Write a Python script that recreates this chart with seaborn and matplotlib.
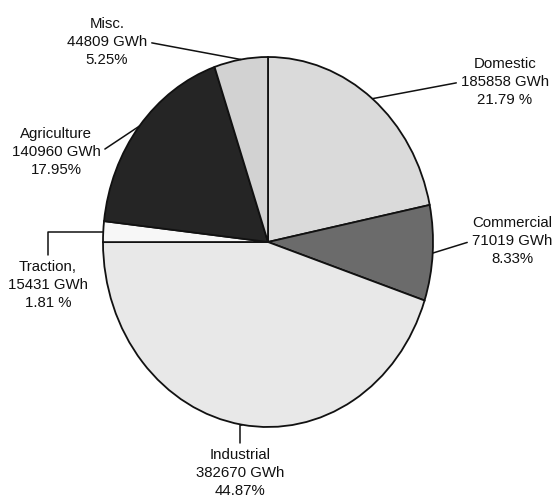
import numpy as np
import matplotlib
matplotlib.use("Agg")
import matplotlib.pyplot as plt
import seaborn as sns

# Electricity consumption by sector
sectors = ["Domestic", "Commercial", "Industrial", "Traction,", "Agriculture", "Misc."]
energy_gwh = [185858, 71019, 382670, 15431, 140960, 44809]
share_pct = [21.79, 8.33, 44.87, 1.81, 17.95, 5.25]
pct_text = ["21.79 %", "8.33%", "44.87%", "1.81 %", "17.95%", "5.25%"]

sns.set_theme(style="white")
plt.rcParams["font.family"] = ["Liberation Sans", "DejaVu Sans"]

fills = ["#dadada", "#6b6b6b", "#e8e8e8", "#f7f7f7", "#252525", "#d2d2d2"]

W, H = 557, 504
fig = plt.figure(figsize=(W / 100, H / 100), dpi=100)
fig.patch.set_facecolor("white")

# axes box spans the (slightly tall) ellipse of the pie
left, right, top, bottom = 103, 433, 57, 427
ax = fig.add_axes([left / W, (H - bottom) / H, (right - left) / W, (bottom - top) / H])

wedges, _ = ax.pie(
    share_pct,
    colors=fills,
    startangle=90,
    counterclock=False,
    radius=1.0,
    wedgeprops=dict(edgecolor="#111111", linewidth=1.3),
)
for w in wedges:
    w.set_clip_on(False)
ax.set_aspect("auto")
ax.set_xlim(-1, 1)
ax.set_ylim(-1, 1)
ax.axis("off")

# label placement (figure pixels, measured from the top) and leader style
label_pos = {
    "Domestic": ((505, 82), (0.0, 0.5), "arc3"),
    "Commercial": ((512, 241), (0.0, 0.5), "arc3"),
    "Industrial": ((240, 473), (0.5, 1.0), "angle,angleA=90,angleB=0,rad=0"),
    "Traction,": ((48, 285), (0.5, 1.0), "angle,angleA=90,angleB=0,rad=0"),
    "Agriculture": ((56, 152), (1.0, 0.5), "arc3"),
    "Misc.": ((107, 42), (1.0, 0.5), "arc3"),
}

for w, name, gwh, pct in zip(wedges, sectors, energy_gwh, pct_text):
    mid = np.deg2rad((w.theta1 + w.theta2) / 2)
    anchor = (np.cos(mid), np.sin(mid))
    (px, py), rel, conn = label_pos[name]
    ax.annotate(
        f"{name}\n{gwh} GWh\n{pct}",
        xy=anchor,
        xycoords="data",
        xytext=(px, H - py),
        textcoords="figure pixels",
        ha="center",
        va="center",
        fontsize=10.8,
        linespacing=1.4,
        color="#111111",
        annotation_clip=False,
        arrowprops=dict(
            arrowstyle="-",
            color="#111111",
            lw=1.1,
            shrinkA=1,
            shrinkB=0,
            relpos=rel,
            connectionstyle=conn,
        ),
    )

fig.savefig("out.png", dpi=100, facecolor="white")
